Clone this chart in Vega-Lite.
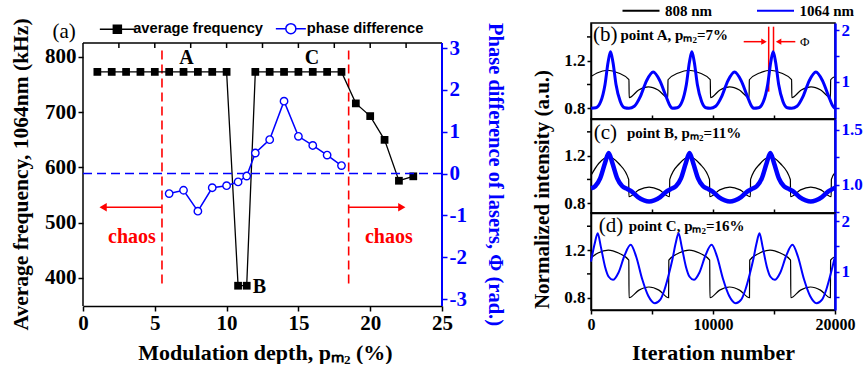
{
"$schema": "https://vega.github.io/schema/vega-lite/v6.json",
"padding": {"left": 10, "top": 2, "right": 0, "bottom": 0},
"config": {
  "view": {"stroke": "black", "strokeWidth": 1.5},
  "axis": {"labelFont": "Liberation Serif", "titleFont": "Liberation Serif", "labelFontWeight": "bold", "titleFontWeight": "bold", "labelColor": "black", "titleColor": "black", "domainColor": "black", "tickColor": "black", "domainWidth": 1.5, "tickWidth": 1.5, "grid": false, "labelOverlap": false, "labelFlush": false, "labelPadding": 2}
},
"datasets": {
  "freq": [{"p":1,"f":773},{"p":2,"f":773},{"p":3,"f":773},{"p":4,"f":773},{"p":5,"f":773},{"p":6,"f":773},{"p":7,"f":773},{"p":8,"f":773},{"p":9,"f":773},{"p":10,"f":773},{"p":10.8,"f":386},{"p":11.4,"f":386},{"p":12,"f":773},{"p":13,"f":773},{"p":14,"f":773},{"p":15,"f":773},{"p":16,"f":773},{"p":17,"f":773},{"p":18,"f":773},{"p":19,"f":716},{"p":20,"f":693},{"p":21,"f":650},{"p":22,"f":576},{"p":23,"f":584}],
  "phase": [{"p":6,"ph":-0.48},{"p":7,"ph":-0.40},{"p":8,"ph":-0.90},{"p":9,"ph":-0.34},{"p":10,"ph":-0.29},{"p":10.8,"ph":-0.2},{"p":11.4,"ph":-0.06},{"p":12,"ph":0.49},{"p":13,"ph":0.81},{"p":14,"ph":1.73},{"p":15,"ph":0.89},{"p":16,"ph":0.67},{"p":17,"ph":0.44},{"p":18,"ph":0.19}],
  "vlines": [{"p":5.5,"y1":390,"y2":812},{"p":18.5,"y1":390,"y2":812}],
  "arrows": [{"p1":5.5,"p2":1.4,"y":528},{"p1":18.5,"p2":22.2,"y":528}],
  "heads": [{"p":1.4,"y":528,"dir":"left"},{"p":22.2,"y":528,"dir":"right"}],
  "letters": [{"p":7.2,"y":799,"t":"A"},{"p":15.95,"y":799,"t":"C"},{"p":12.29,"y":383,"t":"B"}],
  "chaos": [{"p":3.41,"y":475,"t":"chaos"},{"p":21.3,"y":475,"t":"chaos"}],
  "tagA": [{"p":-1.32,"y":845,"t":"(a)"}],
  "leg": [{"p":-50,"y":600,"s":"average frequency"},{"p":-50,"y":600,"s":"phase difference"}],
  "zero": [{"ph":0}],
  "frameL": [{"p":0,"y1":349.3,"y2":825.3}],
  "frameT": [{"p1":0,"p2":25,"y":825.3}],
  "frameR": [{"p":25,"y1":-3.167,"y2":3.12}],
  "topTicks": [{"p":2.5,"y1":816.3,"y2":825.3},{"p":5,"y1":816.3,"y2":825.3},{"p":7.5,"y1":816.3,"y2":825.3},{"p":10,"y1":816.3,"y2":825.3},{"p":12.5,"y1":816.3,"y2":825.3},{"p":15,"y1":816.3,"y2":825.3},{"p":17.5,"y1":816.3,"y2":825.3},{"p":20,"y1":816.3,"y2":825.3},{"p":22.5,"y1":816.3,"y2":825.3}],
  "minorL": [{"x1":-330,"x2":0,"y":1.0},{"x1":-330,"x2":0,"y":1.4}],
  "b808": [{"it":0,"v":1.067},{"it":496,"v":1.097},{"it":1367,"v":1.12},{"it":2239,"v":1.097},{"it":3110,"v":1.04},{"it":3130,"v":0.89},{"it":3906,"v":0.954},{"it":4701,"v":0.98},{"it":5497,"v":0.954},{"it":6292,"v":0.89},{"it":6312,"v":1.04},{"it":7163,"v":1.097},{"it":8034,"v":1.12},{"it":8906,"v":1.097},{"it":9777,"v":1.04},{"it":9797,"v":0.89},{"it":10573,"v":0.954},{"it":11368,"v":0.98},{"it":12164,"v":0.954},{"it":12958,"v":0.89},{"it":12978,"v":1.04},{"it":13829,"v":1.097},{"it":14700,"v":1.12},{"it":15572,"v":1.097},{"it":16443,"v":1.04},{"it":16463,"v":0.89},{"it":17239,"v":0.954},{"it":18034,"v":0.98},{"it":18830,"v":0.954},{"it":19625,"v":0.89},{"it":19645,"v":1.04},{"it":20000,"v":1.067}],
  "b1064": [{"it":0,"v":0.49},{"it":400,"v":0.5},{"it":800,"v":0.62},{"it":1150,"v":0.95},{"it":1400,"v":1.38},{"it":1600,"v":1.58},{"it":1800,"v":1.38},{"it":2050,"v":0.95},{"it":2400,"v":0.62},{"it":2750,"v":0.5},{"it":3110,"v":0.49},{"it":3550,"v":0.53},{"it":4050,"v":0.72},{"it":4550,"v":1.02},{"it":5100,"v":1.19},{"it":5650,"v":1.02},{"it":6150,"v":0.72},{"it":6500,"v":0.53},{"it":6660,"v":0.49},{"it":7067,"v":0.5},{"it":7467,"v":0.62},{"it":7817,"v":0.95},{"it":8067,"v":1.38},{"it":8267,"v":1.58},{"it":8467,"v":1.38},{"it":8717,"v":0.95},{"it":9067,"v":0.62},{"it":9417,"v":0.5},{"it":9777,"v":0.49},{"it":10217,"v":0.53},{"it":10717,"v":0.72},{"it":11217,"v":1.02},{"it":11767,"v":1.19},{"it":12317,"v":1.02},{"it":12817,"v":0.72},{"it":13167,"v":0.53},{"it":13326,"v":0.49},{"it":13733,"v":0.5},{"it":14133,"v":0.62},{"it":14483,"v":0.95},{"it":14733,"v":1.38},{"it":14933,"v":1.58},{"it":15133,"v":1.38},{"it":15383,"v":0.95},{"it":15733,"v":0.62},{"it":16083,"v":0.5},{"it":16443,"v":0.49},{"it":16883,"v":0.53},{"it":17383,"v":0.72},{"it":17883,"v":1.02},{"it":18433,"v":1.19},{"it":18983,"v":1.02},{"it":19483,"v":0.72},{"it":19833,"v":0.53},{"it":20000,"v":0.49}],
  "c808": [{"it":0,"v":1.034},{"it":630,"v":1.134},{"it":1450,"v":1.19},{"it":2270,"v":1.134},{"it":3090,"v":1.0},{"it":3110,"v":0.855},{"it":3926,"v":0.912},{"it":4762,"v":0.935},{"it":5599,"v":0.912},{"it":6435,"v":0.855},{"it":6455,"v":1.0},{"it":7255,"v":1.134},{"it":8075,"v":1.19},{"it":8895,"v":1.134},{"it":9715,"v":1.0},{"it":9735,"v":0.855},{"it":10551,"v":0.912},{"it":11387,"v":0.935},{"it":12224,"v":0.912},{"it":13060,"v":0.855},{"it":13080,"v":1.0},{"it":13880,"v":1.134},{"it":14700,"v":1.19},{"it":15520,"v":1.134},{"it":16340,"v":1.0},{"it":16360,"v":0.855},{"it":17176,"v":0.912},{"it":18012,"v":0.935},{"it":18849,"v":0.912},{"it":19685,"v":0.855},{"it":19705,"v":1.0},{"it":20000,"v":1.056}],
  "c1064": [{"it":0,"v":0.97},{"it":350,"v":0.99},{"it":750,"v":1.06},{"it":1150,"v":1.2},{"it":1450,"v":1.29},{"it":1750,"v":1.2},{"it":2150,"v":1.06},{"it":2550,"v":0.99},{"it":2950,"v":0.965},{"it":3350,"v":0.94},{"it":3850,"v":0.89},{"it":4350,"v":0.86},{"it":4762,"v":0.85},{"it":5175,"v":0.86},{"it":5675,"v":0.89},{"it":6175,"v":0.94},{"it":6575,"v":0.965},{"it":6975,"v":0.99},{"it":7375,"v":1.06},{"it":7775,"v":1.2},{"it":8075,"v":1.29},{"it":8375,"v":1.2},{"it":8775,"v":1.06},{"it":9175,"v":0.99},{"it":9575,"v":0.965},{"it":9975,"v":0.94},{"it":10475,"v":0.89},{"it":10975,"v":0.86},{"it":11387,"v":0.85},{"it":11800,"v":0.86},{"it":12300,"v":0.89},{"it":12800,"v":0.94},{"it":13200,"v":0.965},{"it":13600,"v":0.99},{"it":14000,"v":1.06},{"it":14400,"v":1.2},{"it":14700,"v":1.29},{"it":15000,"v":1.2},{"it":15400,"v":1.06},{"it":15800,"v":0.99},{"it":16200,"v":0.965},{"it":16600,"v":0.94},{"it":17100,"v":0.89},{"it":17600,"v":0.86},{"it":18012,"v":0.85},{"it":18425,"v":0.86},{"it":18925,"v":0.89},{"it":19425,"v":0.94},{"it":19825,"v":0.965},{"it":20000,"v":0.975}],
  "d808": [{"it":0,"v":1.136},{"it":573,"v":1.175},{"it":1415,"v":1.2},{"it":2258,"v":1.175},{"it":3100,"v":1.115},{"it":3120,"v":0.80},{"it":3935,"v":0.864},{"it":4750,"v":0.89},{"it":5565,"v":0.864},{"it":6360,"v":0.80},{"it":6380,"v":1.115},{"it":7203,"v":1.175},{"it":8045,"v":1.2},{"it":8888,"v":1.175},{"it":9730,"v":1.115},{"it":9750,"v":0.80},{"it":10545,"v":0.864},{"it":11360,"v":0.89},{"it":12175,"v":0.864},{"it":12990,"v":0.80},{"it":13010,"v":1.115},{"it":13833,"v":1.175},{"it":14675,"v":1.2},{"it":15518,"v":1.175},{"it":16360,"v":1.115},{"it":16380,"v":0.80},{"it":17175,"v":0.864},{"it":17990,"v":0.89},{"it":18805,"v":0.864},{"it":19620,"v":0.80},{"it":19640,"v":1.115},{"it":20000,"v":1.144}],
  "d1064": [{"it":0,"v":1.2},{"it":300,"v":1.55},{"it":550,"v":1.76},{"it":800,"v":1.5},{"it":1150,"v":1.1},{"it":1450,"v":0.9},{"it":1800,"v":0.84},{"it":2250,"v":0.98},{"it":2750,"v":1.32},{"it":3250,"v":1.53},{"it":3700,"v":1.3},{"it":4200,"v":0.85},{"it":4700,"v":0.52},{"it":5230,"v":0.38},{"it":5680,"v":0.45},{"it":6030,"v":0.65},{"it":6380,"v":0.95},{"it":6680,"v":1.25},{"it":6930,"v":1.55},{"it":7180,"v":1.76},{"it":7430,"v":1.5},{"it":7780,"v":1.1},{"it":8080,"v":0.9},{"it":8430,"v":0.84},{"it":8880,"v":0.98},{"it":9380,"v":1.32},{"it":9880,"v":1.53},{"it":10330,"v":1.3},{"it":10830,"v":0.85},{"it":11330,"v":0.52},{"it":11860,"v":0.38},{"it":12310,"v":0.45},{"it":12660,"v":0.65},{"it":13010,"v":0.95},{"it":13310,"v":1.25},{"it":13560,"v":1.55},{"it":13810,"v":1.76},{"it":14060,"v":1.5},{"it":14410,"v":1.1},{"it":14710,"v":0.9},{"it":15060,"v":0.84},{"it":15510,"v":0.98},{"it":16010,"v":1.32},{"it":16510,"v":1.53},{"it":16960,"v":1.3},{"it":17460,"v":0.85},{"it":17960,"v":0.52},{"it":18490,"v":0.38},{"it":18940,"v":0.45},{"it":19290,"v":0.65},{"it":19640,"v":0.95},{"it":20000,"v":1.3}],
  "phiLines": [{"it":14565,"y1":0.94,"y2":1.486},{"it":14960,"y1":1.28,"y2":1.486}],
  "phiArrows": [{"x1":12517,"x2":14180,"y":1.36},{"x1":16747,"x2":15375,"y":1.36}],
  "phiHeads": [{"it":14180,"y":1.36,"dir":"right"},{"it":15375,"y":1.36,"dir":"left"}],
  "phiText": [{"it":17520,"y":1.36,"t":"Φ"}],
  "parenTags": [{"pn":"b","it":164,"y":1.416,"t":"(b)"},{"pn":"c","it":221,"y":1.388,"t":"(c)"},{"pn":"d","it":631,"y":1.399,"t":"(d)"}],
  "pointTags": [{"pn":"b","it":2418,"y":1.416,"t":"point A, pₘ₂=7%"},{"pn":"c","it":2951,"y":1.388,"t":"point B, pₘ₂=11%"},{"pn":"d","it":3090,"y":1.399,"t":"point C, pₘ₂=16%"}]
},
"spacing": 149,
"bounds": "flush",
"resolve": {"scale": {"color": "independent", "fill": "independent", "stroke": "independent", "shape": "independent"}, "legend": {"color": "independent", "fill": "independent", "stroke": "independent", "shape": "independent"}},
"hconcat": [
 {
  "width": 359, "height": 283,
  "view": {"stroke": null},
  "resolve": {"scale": {"y": "independent"}, "axis": {"y": "independent"}},
  "layer": [
   {"layer": [
     {"data": {"name": "frameL"}, "mark": {"type": "rule", "color": "black", "strokeWidth": 1.5},
      "encoding": {"x": {"field": "p", "type": "quantitative", "scale": {"domain": [0, 25], "nice": false, "zero": false}},
                   "y": {"field": "y1", "type": "quantitative", "scale": {"domain": [349.3, 861.5], "nice": false, "zero": false}},
                   "y2": {"field": "y2"}}},
     {"data": {"name": "frameT"}, "mark": {"type": "rule", "color": "black", "strokeWidth": 1.5},
      "encoding": {"x": {"field": "p1", "type": "quantitative", "scale": {"domain": [0, 25], "nice": false, "zero": false}},
                   "x2": {"field": "p2"},
                   "y": {"field": "y", "type": "quantitative", "scale": {"domain": [349.3, 861.5], "nice": false, "zero": false}}}},
     {"data": {"name": "topTicks"}, "mark": {"type": "rule", "color": "black", "strokeWidth": 1.5},
      "encoding": {"x": {"field": "p", "type": "quantitative", "scale": {"domain": [0, 25], "nice": false, "zero": false}},
                   "y": {"field": "y1", "type": "quantitative", "scale": {"domain": [349.3, 861.5], "nice": false, "zero": false}},
                   "y2": {"field": "y2"}}},
     {"data": {"name": "vlines"}, "mark": {"type": "rule", "color": "red", "strokeWidth": 1.6, "strokeDash": [9, 5]},
      "encoding": {"x": {"field": "p", "type": "quantitative", "scale": {"domain": [0, 25], "nice": false, "zero": false}},
                   "y": {"field": "y1", "type": "quantitative", "scale": {"domain": [349.3, 861.5], "nice": false, "zero": false}},
                   "y2": {"field": "y2"}}},
     {"data": {"name": "arrows"}, "mark": {"type": "rule", "color": "red", "strokeWidth": 1.6},
      "encoding": {"x": {"field": "p1", "type": "quantitative", "scale": {"domain": [0, 25], "nice": false, "zero": false}},
                   "x2": {"field": "p2"},
                   "y": {"field": "y", "type": "quantitative", "scale": {"domain": [349.3, 861.5], "nice": false, "zero": false}}}},
     {"data": {"name": "heads"}, "transform": [{"filter": "datum.dir === 'left'"}], "mark": {"type": "point", "shape": "triangle-left", "filled": true, "color": "red", "size": 70, "opacity": 1},
      "encoding": {"x": {"field": "p", "type": "quantitative", "scale": {"domain": [0, 25], "nice": false, "zero": false}},
                   "y": {"field": "y", "type": "quantitative", "scale": {"domain": [349.3, 861.5], "nice": false, "zero": false}}}},
     {"data": {"name": "heads"}, "transform": [{"filter": "datum.dir === 'right'"}], "mark": {"type": "point", "shape": "triangle-right", "filled": true, "color": "red", "size": 70, "opacity": 1},
      "encoding": {"x": {"field": "p", "type": "quantitative", "scale": {"domain": [0, 25], "nice": false, "zero": false}},
                   "y": {"field": "y", "type": "quantitative", "scale": {"domain": [349.3, 861.5], "nice": false, "zero": false}}}},
     {"data": {"name": "chaos"}, "mark": {"type": "text", "font": "Liberation Serif", "fontWeight": "bold", "fontSize": 20, "color": "red", "align": "center", "baseline": "middle"},
      "encoding": {"x": {"field": "p", "type": "quantitative", "scale": {"domain": [0, 25], "nice": false, "zero": false}},
                   "y": {"field": "y", "type": "quantitative", "scale": {"domain": [349.3, 861.5], "nice": false, "zero": false}},
                   "text": {"field": "t"}}},
     {"data": {"name": "letters"}, "mark": {"type": "text", "font": "Liberation Serif", "fontWeight": "bold", "fontSize": 20, "color": "black", "align": "center", "baseline": "middle"},
      "encoding": {"x": {"field": "p", "type": "quantitative", "scale": {"domain": [0, 25], "nice": false, "zero": false}},
                   "y": {"field": "y", "type": "quantitative", "scale": {"domain": [349.3, 861.5], "nice": false, "zero": false}},
                   "text": {"field": "t"}}},
     {"data": {"name": "tagA"}, "mark": {"type": "text", "font": "Liberation Serif", "fontSize": 21, "color": "black", "align": "center", "baseline": "middle"},
      "encoding": {"x": {"field": "p", "type": "quantitative", "scale": {"domain": [0, 25], "nice": false, "zero": false}},
                   "y": {"field": "y", "type": "quantitative", "scale": {"domain": [349.3, 861.5], "nice": false, "zero": false}},
                   "text": {"field": "t"}}},
     {"data": {"name": "leg"}, "mark": {"type": "point", "clip": true, "filled": true, "strokeWidth": 1.5, "opacity": 1},
      "encoding": {"x": {"field": "p", "type": "quantitative", "scale": {"domain": [0, 25], "nice": false, "zero": false}},
                   "y": {"field": "y", "type": "quantitative", "scale": {"domain": [349.3, 861.5], "nice": false, "zero": false}},
                   "shape": {"field": "s", "type": "nominal", "scale": {"domain": ["average frequency", "phase difference"], "range": ["M-0.8,-0.8H0.8V0.8H-0.8Z M-3.5,0H-0.8 M0.8,0H3.5", "M-1,0A1,1,0,1,1,1,0A1,1,0,1,1,-1,0Z M-3,0H-1 M1,0H3"]},
                             "legend": {"orient": "none", "legendX": 27, "legendY": -2, "direction": "horizontal", "title": null, "labelFont": "Liberation Sans", "labelFontWeight": "bold", "labelFontSize": 14.7, "labelColor": "black", "symbolSize": 100, "symbolStrokeWidth": 1.5, "labelOffset": 8.5, "columnPadding": 8.5, "padding": 0}},
                   "fill": {"field": "s", "type": "nominal", "scale": {"domain": ["average frequency", "phase difference"], "range": ["black", "white"]},
                             "legend": {"orient": "none", "legendX": 27, "legendY": -2, "direction": "horizontal", "title": null, "labelFont": "Liberation Sans", "labelFontWeight": "bold", "labelFontSize": 14.7, "labelColor": "black", "symbolSize": 100, "symbolStrokeWidth": 1.5, "labelOffset": 8.5, "columnPadding": 8.5, "padding": 0}},
                   "stroke": {"field": "s", "type": "nominal", "scale": {"domain": ["average frequency", "phase difference"], "range": ["black", "blue"]},
                             "legend": {"orient": "none", "legendX": 27, "legendY": -2, "direction": "horizontal", "title": null, "labelFont": "Liberation Sans", "labelFontWeight": "bold", "labelFontSize": 14.7, "labelColor": "black", "symbolSize": 100, "symbolStrokeWidth": 1.5, "labelOffset": 8.5, "columnPadding": 8.5, "padding": 0}}}},
     {"data": {"name": "freq"}, "mark": {"type": "line", "color": "black", "strokeWidth": 1.3},
      "encoding": {"x": {"field": "p", "type": "quantitative", "scale": {"domain": [0, 25], "nice": false, "zero": false},
                         "axis": {"values": [0, 2.5, 5, 7.5, 10, 12.5, 15, 17.5, 20, 22.5, 25], "labelExpr": "datum.value % 5 === 0 ? datum.label : ''", "title": "Modulation depth, pₘ₂ (%)", "labelFontSize": 21, "titleFontSize": 22, "tickSize": 5, "labelPadding": 1, "titleX": 182, "titleY": 46, "titleBaseline": "middle"}},
                   "y": {"field": "f", "type": "quantitative", "scale": {"domain": [349.3, 861.5], "nice": false, "zero": false},
                         "axis": {"domain": false, "values": [400, 450, 500, 550, 600, 650, 700, 750, 800], "labelExpr": "datum.value % 100 === 0 ? datum.label : ''", "title": "Average frequency, 1064nm (kHz)", "labelFontSize": 21, "titleFontSize": 21.5, "tickSize": 5, "titleX": -62, "titleY": 151, "titleBaseline": "middle"}}}},
     {"data": {"name": "freq"}, "mark": {"type": "point", "shape": "square", "filled": true, "color": "black", "size": 60, "opacity": 1},
      "encoding": {"x": {"field": "p", "type": "quantitative", "scale": {"domain": [0, 25], "nice": false, "zero": false}},
                   "y": {"field": "f", "type": "quantitative", "scale": {"domain": [349.3, 861.5], "nice": false, "zero": false}}}}
   ]},
   {"layer": [
     {"data": {"name": "frameR"}, "mark": {"type": "rule", "color": "blue", "strokeWidth": 2},
      "encoding": {"x": {"field": "p", "type": "quantitative", "scale": {"domain": [0, 25], "nice": false, "zero": false}},
                   "y": {"field": "y1", "type": "quantitative", "scale": {"domain": [-3.167, 3.598], "nice": false, "zero": false}},
                   "y2": {"field": "y2"}}},
     {"data": {"name": "zero"}, "mark": {"type": "rule", "color": "blue", "strokeWidth": 1.6, "strokeDash": [9, 5]},
      "encoding": {"y": {"field": "ph", "type": "quantitative", "scale": {"domain": [-3.167, 3.598], "nice": false, "zero": false}}}},
     {"data": {"name": "phase"}, "mark": {"type": "line", "color": "blue", "strokeWidth": 1.5},
      "encoding": {"x": {"field": "p", "type": "quantitative", "scale": {"domain": [0, 25], "nice": false, "zero": false}},
                   "y": {"field": "ph", "type": "quantitative", "scale": {"domain": [-3.167, 3.598], "nice": false, "zero": false},
                         "axis": {"orient": "right", "domain": false, "values": [-3, -2.5, -2, -1.5, -1, -0.5, 0, 0.5, 1, 1.5, 2, 2.5, 3], "labelExpr": "datum.value % 1 === 0 ? '' + datum.value : ''", "title": "Phase difference of lasers, Φ (rad.)", "labelColor": "blue", "titleColor": "blue", "tickColor": "blue", "labelFontSize": 21, "titleFontSize": 20.5, "tickSize": 5, "titleX": 52, "titleY": 151, "titleBaseline": "middle"}}}},
     {"data": {"name": "phase"}, "mark": {"type": "point", "shape": "circle", "filled": true, "fill": "white", "stroke": "blue", "strokeWidth": 1.4, "size": 55, "opacity": 1},
      "encoding": {"x": {"field": "p", "type": "quantitative", "scale": {"domain": [0, 25], "nice": false, "zero": false}},
                   "y": {"field": "ph", "type": "quantitative", "scale": {"domain": [-3.167, 3.598], "nice": false, "zero": false}}}}
   ]}
  ]
 },
 {
  "spacing": 0,
  "bounds": "flush",
  "resolve": {"scale": {"color": "independent"}, "legend": {"color": "independent"}},
  "vconcat": [
   {
    "width": 244, "height": 96,
    "resolve": {"scale": {"y": "independent"}, "axis": {"y": "independent"}},
    "layer": [
     {"layer": [
       {"data": {"name": "b808"}, "mark": {"type": "line", "interpolate": "monotone", "strokeWidth": 1.2},
        "encoding": {"x": {"field": "it", "type": "quantitative", "scale": {"domain": [0, 20000], "nice": false, "zero": false},
                           "axis": {"values": [5000, 10000, 15000], "labels": false, "tickSize": -4, "title": null}},
                     "y": {"field": "v", "type": "quantitative", "scale": {"domain": [0.71, 1.517], "nice": false, "zero": false},
                           "axis": {"values": [0.8, 1.2], "format": ".1f", "title": null, "labelFontSize": 17, "tickSize": 4, "labelOverlap": false}},
                     "color": {"datum": "808 nm", "type": "nominal", "scale": {"domain": ["808 nm", "1064 nm"], "range": ["black", "blue"]},
                               "legend": {"orient": "none", "legendX": 42.5, "legendY": -20, "direction": "horizontal", "title": null, "symbolType": "M-3.7,0H3.7", "symbolSize": 100, "symbolStrokeWidth": 1.8, "labelFont": "Liberation Serif", "labelFontWeight": "bold", "labelFontSize": 15, "labelColor": "black", "labelOffset": 16.5, "columnPadding": 40.5, "padding": 0}}}},
       {"data": {"name": "minorL"}, "mark": {"type": "rule", "color": "black", "strokeWidth": 1.5},
        "encoding": {"x": {"field": "x1", "type": "quantitative", "scale": {"domain": [0, 20000], "nice": false, "zero": false}},
                     "x2": {"field": "x2"},
                     "y": {"field": "y", "type": "quantitative", "scale": {"domain": [0.71, 1.517], "nice": false, "zero": false}}}},
       {"data": {"name": "phiLines"}, "mark": {"type": "rule", "color": "red", "strokeWidth": 1.5},
        "encoding": {"x": {"field": "it", "type": "quantitative", "scale": {"domain": [0, 20000], "nice": false, "zero": false}},
                     "y": {"field": "y1", "type": "quantitative", "scale": {"domain": [0.71, 1.517], "nice": false, "zero": false}},
                     "y2": {"field": "y2"}}},
       {"data": {"name": "phiArrows"}, "mark": {"type": "rule", "color": "red", "strokeWidth": 1.5},
        "encoding": {"x": {"field": "x1", "type": "quantitative", "scale": {"domain": [0, 20000], "nice": false, "zero": false}},
                     "x2": {"field": "x2"},
                     "y": {"field": "y", "type": "quantitative", "scale": {"domain": [0.71, 1.517], "nice": false, "zero": false}}}},
       {"data": {"name": "phiHeads"}, "transform": [{"filter": "datum.dir === 'right'"}], "mark": {"type": "point", "shape": "triangle-right", "filled": true, "color": "red", "size": 40, "opacity": 1},
        "encoding": {"x": {"field": "it", "type": "quantitative", "scale": {"domain": [0, 20000], "nice": false, "zero": false}},
                     "y": {"field": "y", "type": "quantitative", "scale": {"domain": [0.71, 1.517], "nice": false, "zero": false}}}},
       {"data": {"name": "phiHeads"}, "transform": [{"filter": "datum.dir === 'left'"}], "mark": {"type": "point", "shape": "triangle-left", "filled": true, "color": "red", "size": 40, "opacity": 1},
        "encoding": {"x": {"field": "it", "type": "quantitative", "scale": {"domain": [0, 20000], "nice": false, "zero": false}},
                     "y": {"field": "y", "type": "quantitative", "scale": {"domain": [0.71, 1.517], "nice": false, "zero": false}}}},
       {"data": {"name": "phiText"}, "mark": {"type": "text", "font": "Liberation Serif", "fontSize": 13, "color": "black", "align": "center", "baseline": "middle"},
        "encoding": {"x": {"field": "it", "type": "quantitative", "scale": {"domain": [0, 20000], "nice": false, "zero": false}},
                     "y": {"field": "y", "type": "quantitative", "scale": {"domain": [0.71, 1.517], "nice": false, "zero": false}},
                     "text": {"field": "t"}}},
       {"data": {"name": "parenTags"}, "transform": [{"filter": "datum.pn === 'b'"}], "mark": {"type": "text", "font": "Liberation Serif", "fontSize": 21, "color": "black", "align": "left", "baseline": "middle"},
        "encoding": {"x": {"field": "it", "type": "quantitative", "scale": {"domain": [0, 20000], "nice": false, "zero": false}},
                     "y": {"field": "y", "type": "quantitative", "scale": {"domain": [0.71, 1.517], "nice": false, "zero": false}},
                     "text": {"field": "t"}}},
       {"data": {"name": "pointTags"}, "transform": [{"filter": "datum.pn === 'b'"}], "mark": {"type": "text", "font": "Liberation Serif", "fontWeight": "bold", "fontSize": 15, "color": "black", "align": "left", "baseline": "middle"},
        "encoding": {"x": {"field": "it", "type": "quantitative", "scale": {"domain": [0, 20000], "nice": false, "zero": false}},
                     "y": {"field": "y", "type": "quantitative", "scale": {"domain": [0.71, 1.517], "nice": false, "zero": false}},
                     "text": {"field": "t"}}}
     ]},
     {"layer": [
       {"data": {"name": "b1064"}, "mark": {"type": "line", "interpolate": "monotone", "strokeWidth": 3},
        "encoding": {"x": {"field": "it", "type": "quantitative", "scale": {"domain": [0, 20000], "nice": false, "zero": false}},
                     "y": {"field": "v", "type": "quantitative", "scale": {"domain": [0.284, 2.135], "nice": false, "zero": false},
                           "axis": {"orient": "right", "values": [0.5, 1, 1.5, 2], "labelExpr": "datum.value % 1 == 0 ? '' + datum.value : ''", "title": null, "labelColor": "blue", "domainColor": "blue", "tickColor": "blue", "domainWidth": 2.5, "labelFontSize": 17, "tickSize": 4, "zindex": 1}},
                     "color": {"datum": "1064 nm", "type": "nominal", "scale": {"domain": ["808 nm", "1064 nm"], "range": ["black", "blue"]},
                               "legend": {"orient": "none", "legendX": 42.5, "legendY": -20, "direction": "horizontal", "title": null, "symbolType": "M-3.7,0H3.7", "symbolSize": 100, "symbolStrokeWidth": 1.8, "labelFont": "Liberation Serif", "labelFontWeight": "bold", "labelFontSize": 15, "labelColor": "black", "labelOffset": 16.5, "columnPadding": 40.5, "padding": 0}}}}
     ]}
    ]
   },
   {
    "width": 244, "height": 94,
    "resolve": {"scale": {"y": "independent"}, "axis": {"y": "independent"}},
    "layer": [
     {"layer": [
       {"data": {"name": "c808"}, "mark": {"type": "line", "interpolate": "monotone", "strokeWidth": 1.2, "color": "black"},
        "encoding": {"x": {"field": "it", "type": "quantitative", "scale": {"domain": [0, 20000], "nice": false, "zero": false},
                           "axis": {"values": [5000, 10000, 15000], "labels": false, "tickSize": -4, "title": null}},
                     "y": {"field": "v", "type": "quantitative", "scale": {"domain": [0.718, 1.508], "nice": false, "zero": false},
                           "axis": {"values": [0.8, 1.2], "format": ".1f", "labelOverlap": false, "title": "Normalized intensity (a.u.)", "titleFontSize": 21, "titleX": -49, "titleY": 70, "titleBaseline": "middle", "labelFontSize": 17, "tickSize": 4}}}},
       {"data": {"name": "minorL"}, "mark": {"type": "rule", "color": "black", "strokeWidth": 1.5},
        "encoding": {"x": {"field": "x1", "type": "quantitative", "scale": {"domain": [0, 20000], "nice": false, "zero": false}},
                     "x2": {"field": "x2"},
                     "y": {"field": "y", "type": "quantitative", "scale": {"domain": [0.718, 1.508], "nice": false, "zero": false}}}},
       {"data": {"name": "parenTags"}, "transform": [{"filter": "datum.pn === 'c'"}], "mark": {"type": "text", "font": "Liberation Serif", "fontSize": 21, "color": "black", "align": "left", "baseline": "middle"},
        "encoding": {"x": {"field": "it", "type": "quantitative", "scale": {"domain": [0, 20000], "nice": false, "zero": false}},
                     "y": {"field": "y", "type": "quantitative", "scale": {"domain": [0.718, 1.508], "nice": false, "zero": false}},
                     "text": {"field": "t"}}},
       {"data": {"name": "pointTags"}, "transform": [{"filter": "datum.pn === 'c'"}], "mark": {"type": "text", "font": "Liberation Serif", "fontWeight": "bold", "fontSize": 15, "color": "black", "align": "left", "baseline": "middle"},
        "encoding": {"x": {"field": "it", "type": "quantitative", "scale": {"domain": [0, 20000], "nice": false, "zero": false}},
                     "y": {"field": "y", "type": "quantitative", "scale": {"domain": [0.718, 1.508], "nice": false, "zero": false}},
                     "text": {"field": "t"}}}
     ]},
     {"layer": [
       {"data": {"name": "c1064"}, "mark": {"type": "line", "interpolate": "monotone", "strokeWidth": 4.5, "color": "blue"},
        "encoding": {"x": {"field": "it", "type": "quantitative", "scale": {"domain": [0, 20000], "nice": false, "zero": false}},
                     "y": {"field": "v", "type": "quantitative", "scale": {"domain": [0.745, 1.6], "nice": false, "zero": false},
                           "axis": {"orient": "right", "values": [0.75, 1, 1.25, 1.5], "labelExpr": "datum.value == 1 || datum.value == 1.5 ? format(datum.value, '.1f') : ''", "title": null, "labelColor": "blue", "domainColor": "blue", "tickColor": "blue", "domainWidth": 2.5, "labelFontSize": 17, "tickSize": 4, "zindex": 1}}}}
     ]}
    ]
   },
   {
    "width": 244, "height": 97,
    "resolve": {"scale": {"y": "independent"}, "axis": {"y": "independent"}},
    "layer": [
     {"layer": [
       {"data": {"name": "d808"}, "mark": {"type": "line", "interpolate": "monotone", "strokeWidth": 1.2, "color": "black"},
        "encoding": {"x": {"field": "it", "type": "quantitative", "scale": {"domain": [0, 20000], "nice": false, "zero": false},
                           "axis": {"values": [0, 5000, 10000, 15000, 20000], "labelExpr": "datum.value % 10000 === 0 ? '' + datum.value : ''", "title": "Iteration number", "titleFontSize": 22, "titleY": 42, "titleBaseline": "middle", "labelFontSize": 16, "tickSize": 4}},
                     "y": {"field": "v", "type": "quantitative", "scale": {"domain": [0.697, 1.511], "nice": false, "zero": false},
                           "axis": {"values": [0.8, 1.2], "format": ".1f", "labelOverlap": false, "title": null, "labelFontSize": 17, "tickSize": 4}}}},
       {"data": {"name": "minorL"}, "mark": {"type": "rule", "color": "black", "strokeWidth": 1.5},
        "encoding": {"x": {"field": "x1", "type": "quantitative", "scale": {"domain": [0, 20000], "nice": false, "zero": false}},
                     "x2": {"field": "x2"},
                     "y": {"field": "y", "type": "quantitative", "scale": {"domain": [0.697, 1.511], "nice": false, "zero": false}}}},
       {"data": {"name": "parenTags"}, "transform": [{"filter": "datum.pn === 'd'"}], "mark": {"type": "text", "font": "Liberation Serif", "fontSize": 21, "color": "black", "align": "left", "baseline": "middle"},
        "encoding": {"x": {"field": "it", "type": "quantitative", "scale": {"domain": [0, 20000], "nice": false, "zero": false}},
                     "y": {"field": "y", "type": "quantitative", "scale": {"domain": [0.697, 1.511], "nice": false, "zero": false}},
                     "text": {"field": "t"}}},
       {"data": {"name": "pointTags"}, "transform": [{"filter": "datum.pn === 'd'"}], "mark": {"type": "text", "font": "Liberation Serif", "fontWeight": "bold", "fontSize": 15, "color": "black", "align": "left", "baseline": "middle"},
        "encoding": {"x": {"field": "it", "type": "quantitative", "scale": {"domain": [0, 20000], "nice": false, "zero": false}},
                     "y": {"field": "y", "type": "quantitative", "scale": {"domain": [0.697, 1.511], "nice": false, "zero": false}},
                     "text": {"field": "t"}}}
     ]},
     {"layer": [
       {"data": {"name": "d1064"}, "mark": {"type": "line", "interpolate": "monotone", "strokeWidth": 2, "color": "blue"},
        "encoding": {"x": {"field": "it", "type": "quantitative", "scale": {"domain": [0, 20000], "nice": false, "zero": false}},
                     "y": {"field": "v", "type": "quantitative", "scale": {"domain": [0.245, 2.158], "nice": false, "zero": false},
                           "axis": {"orient": "right", "values": [0.5, 1, 1.5, 2], "labelExpr": "datum.value % 1 == 0 ? '' + datum.value : ''", "title": null, "labelColor": "blue", "domainColor": "blue", "tickColor": "blue", "domainWidth": 2.5, "labelFontSize": 17, "tickSize": 4, "zindex": 1}}}}
     ]}
    ]
   }
  ]
 }
]
}
